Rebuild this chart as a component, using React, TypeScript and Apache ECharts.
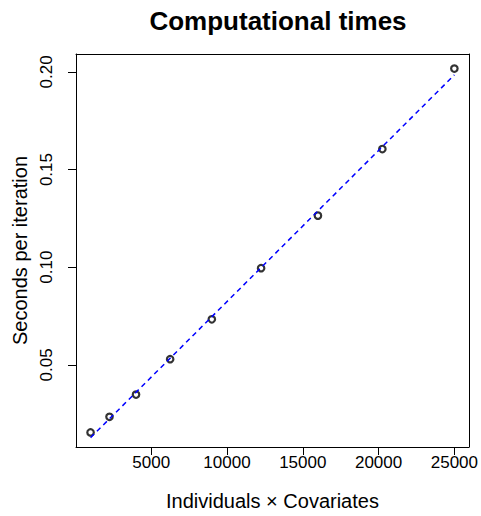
import React, { useEffect, useRef } from "react";
import * as echarts from "echarts";

const xValues = [1000, 2250, 4000, 6250, 9000, 12250, 16000, 20250, 25000];
const yValues = [0.0154, 0.0234, 0.0348, 0.0529, 0.0733, 0.0995, 0.1264, 0.1605, 0.2017];
const xTicks = [5000, 10000, 15000, 20000, 25000];
const yTicks = [0.05, 0.1, 0.15, 0.2];

const titleText = "Computational times";
const xTitle = "Individuals \u00d7 Covariates";
const yTitle = "Seconds per iteration";

const FONT = "'Liberation Sans', Arial, Helvetica, sans-serif";

function linearFit(xs: number[], ys: number[]) {
  const n = xs.length;
  const mx = xs.reduce((a, b) => a + b, 0) / n;
  const my = ys.reduce((a, b) => a + b, 0) / n;
  let sxy = 0;
  let sxx = 0;
  for (let i = 0; i < n; i++) {
    sxy += (xs[i] - mx) * (ys[i] - my);
    sxx += (xs[i] - mx) * (xs[i] - mx);
  }
  const b = sxy / sxx;
  const a = my - b * mx;
  return { a, b };
}

function padRange(vals: number[]) {
  const lo = Math.min(...vals);
  const hi = Math.max(...vals);
  const p = (hi - lo) * 0.04;
  return [lo - p, hi + p];
}

export default function App() {
  const ref = useRef<HTMLDivElement>(null);
  useEffect(() => {
    if (!ref.current) return;
    const chart = echarts.init(ref.current, null, { renderer: "svg" });
    const [xMin, xMax] = padRange(xValues);
    const [yMin, yMax] = padRange(yValues);
    const fit = linearFit(xValues, yValues);
    const x0 = Math.min(...xValues);
    const x1 = Math.max(...xValues);
    const fitLine = [
      [x0, fit.a + fit.b * x0],
      [x1, fit.a + fit.b * x1],
    ];
    const points = xValues.map((x, i) => [x, yValues[i]]);

    const lineStyle = { color: "#000", width: 1 };
    chart.setOption({
      animation: false,
      backgroundColor: "#fff",
      title: {
        text: titleText,
        left: 273,
        top: 3,
        textAlign: "center",
        textStyle: { fontFamily: FONT, fontSize: 26, fontWeight: "bold", color: "#000" },
      },
      grid: { left: 76, top: 54, width: 394, height: 393, containLabel: false },
      xAxis: [
        {
          type: "value",
          min: xMin,
          max: xMax,
          position: "bottom",
          splitLine: { show: false },
          axisLine: { show: true, lineStyle },
          axisTick: { show: true, length: 8, lineStyle, customValues: xTicks },
          axisLabel: {
            show: true,
            margin: 7,
            fontFamily: FONT,
            fontSize: 17,
            color: "#000",
            customValues: xTicks,
            formatter: (v: number) => String(v),
          },
          name: xTitle,
          nameLocation: "middle",
          nameGap: 44,
          nameTextStyle: { fontFamily: FONT, fontSize: 20, color: "#000" },
        },
        {
          type: "value",
          min: xMin,
          max: xMax,
          position: "top",
          splitLine: { show: false },
          axisLine: { show: true, lineStyle },
          axisTick: { show: false },
          axisLabel: { show: false },
        },
      ],
      yAxis: [
        {
          type: "value",
          min: yMin,
          max: yMax,
          position: "left",
          splitLine: { show: false },
          axisLine: { show: true, lineStyle },
          axisTick: { show: true, length: 8, lineStyle, customValues: yTicks },
          axisLabel: {
            show: true,
            rotate: 90,
            margin: 21,
            fontFamily: FONT,
            fontSize: 17,
            color: "#000",
            customValues: yTicks,
            formatter: (v: number) => v.toFixed(2),
          },
          name: yTitle,
          nameLocation: "middle",
          nameGap: 46,
          nameTextStyle: { fontFamily: FONT, fontSize: 20, color: "#000" },
        },
        {
          type: "value",
          min: yMin,
          max: yMax,
          position: "right",
          splitLine: { show: false },
          axisLine: { show: true, lineStyle },
          axisTick: { show: false },
          axisLabel: { show: false },
        },
      ],
      series: [
        {
          type: "scatter",
          data: points,
          symbol: "circle",
          symbolSize: 6.5,
          itemStyle: { color: "rgba(255,255,255,0)", borderColor: "#000", borderWidth: 2.2 },
          z: 2,
        },
        {
          type: "line",
          data: fitLine,
          showSymbol: false,
          symbol: "none",
          lineStyle: { color: "#0000ff", width: 1.5, type: [5, 4] },
          z: 3,
        },
      ],
    });
    return () => chart.dispose();
  }, []);
  return (
    <div
      ref={ref}
      style={{ position: "absolute", left: 0, top: 0, width: 481, height: 516 }}
    />
  );
}
